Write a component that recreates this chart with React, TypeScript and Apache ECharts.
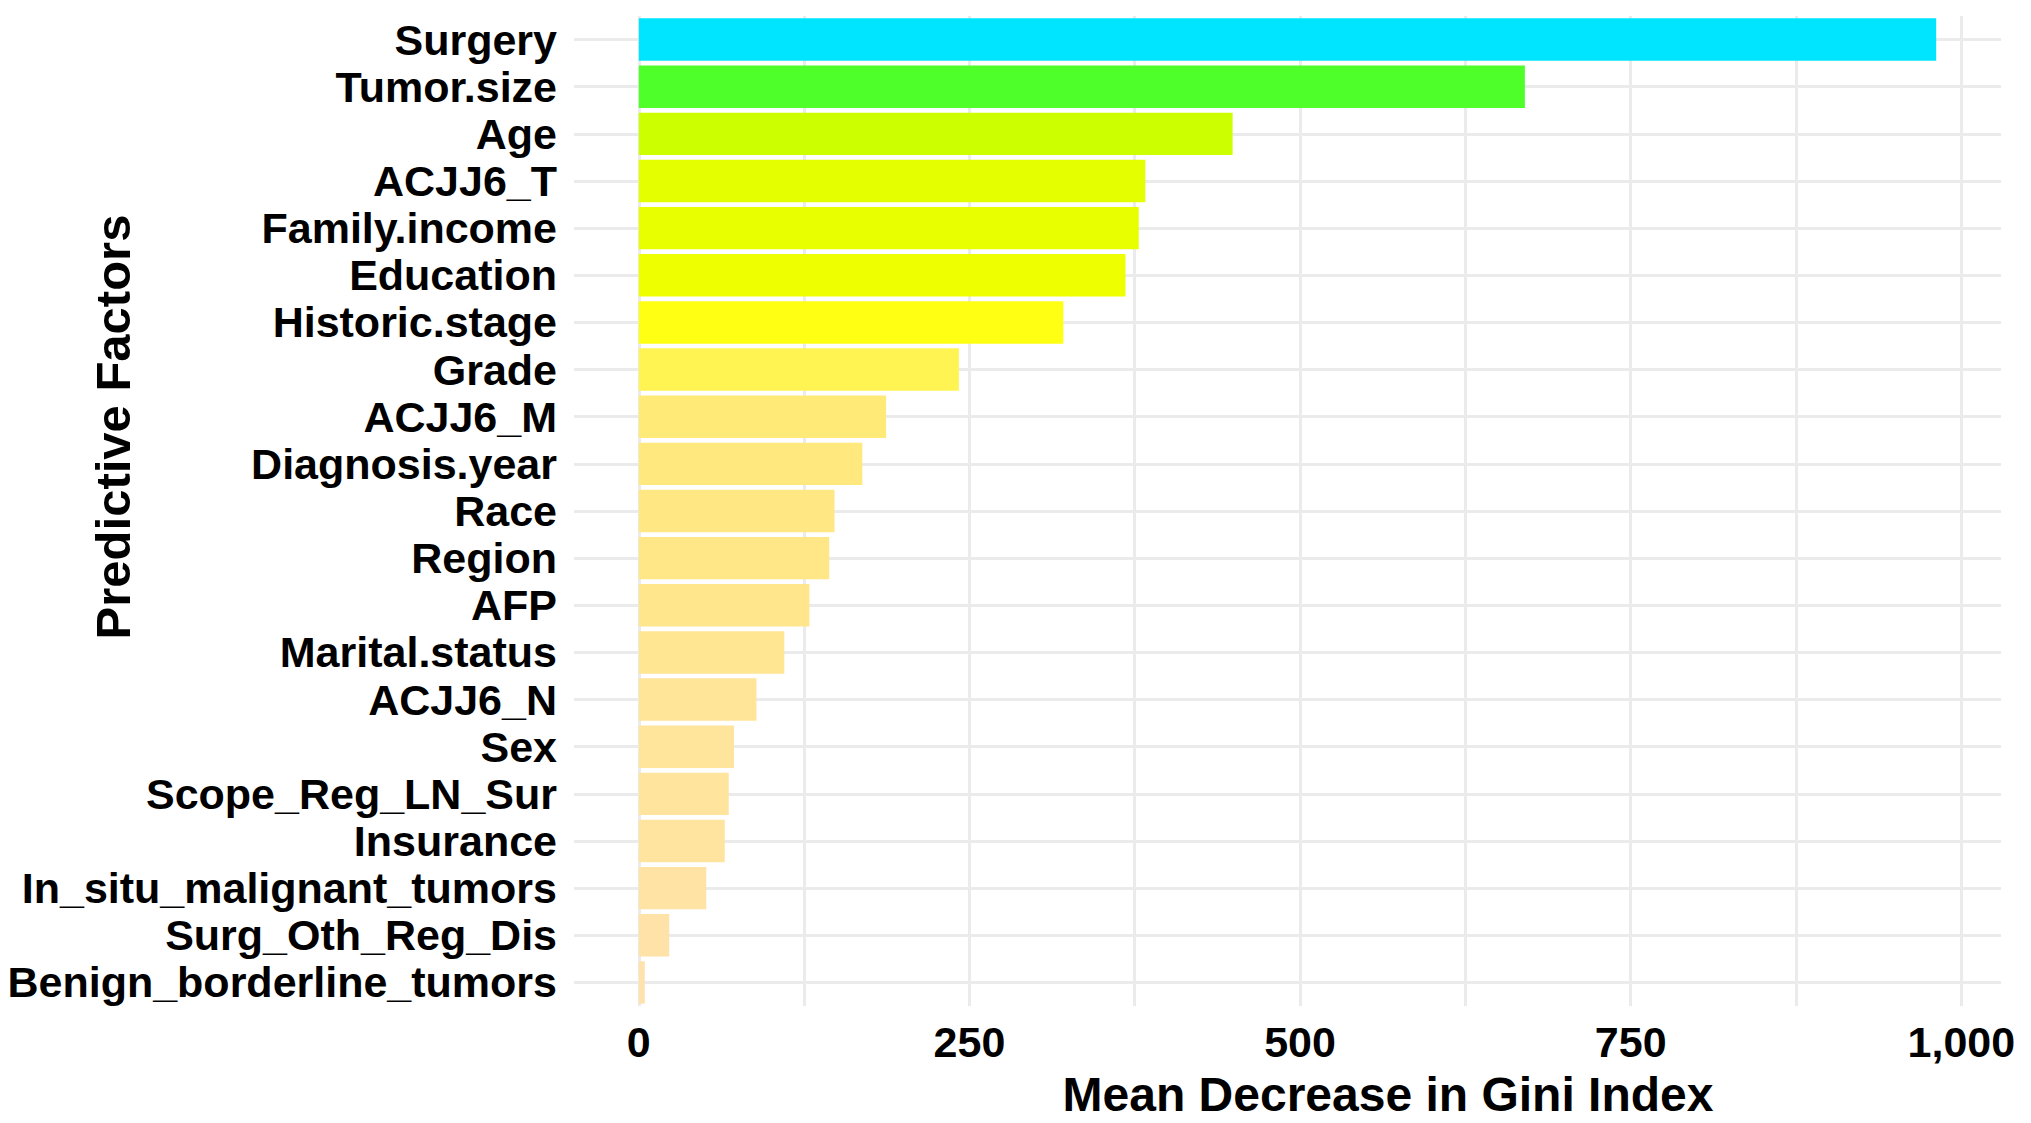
import React, { useEffect, useRef } from "react";
import * as echarts from "echarts";

const categories = [
  "Surgery",
  "Tumor.size",
  "Age",
  "ACJJ6_T",
  "Family.income",
  "Education",
  "Historic.stage",
  "Grade",
  "ACJJ6_M",
  "Diagnosis.year",
  "Race",
  "Region",
  "AFP",
  "Marital.status",
  "ACJJ6_N",
  "Sex",
  "Scope_Reg_LN_Sur",
  "Insurance",
  "In_situ_malignant_tumors",
  "Surg_Oth_Reg_Dis",
  "Benign_borderline_tumors",
];

const values = [981, 670, 449, 383, 378, 368, 321, 242, 187, 169, 148, 144, 129, 110, 89, 72, 68, 65, 51, 23, 4.5];

const barColors = [
  "#00E5FF",
  "#4EFF2A",
  "#CCFF00",
  "#E4FF00",
  "#E8FF00",
  "#EEFF00",
  "#FFFF14",
  "#FFF452",
  "#FFE977",
  "#FFE87D",
  "#FFE783",
  "#FFE787",
  "#FFE68D",
  "#FFE692",
  "#FFE597",
  "#FFE59B",
  "#FFE49E",
  "#FFE4A0",
  "#FFE3A4",
  "#FFE2A8",
  "#FFE1AC",
];

const tickValues = [0, 250, 500, 750, 1000];
const gridValues = [0, 125, 250, 375, 500, 625, 750, 875, 1000];

const xTitle = "Mean Decrease in Gini Index";
const yTitle = "Predictive Factors";

const FONT = "'Liberation Sans', Arial, Helvetica, sans-serif";

export default function App() {
  const ref = useRef<HTMLDivElement>(null);

  useEffect(() => {
    document.body.style.margin = "0";
    document.body.style.overflow = "hidden";
    const chart = echarts.init(ref.current!, null, { renderer: "svg" });
    const gridLineStyle = { color: "#EBEBEB", width: 3, type: "solid" as const };
    chart.setOption({
      animation: false,
      backgroundColor: "#FFFFFF",
      grid: { left: 574, top: 16, width: 1427, height: 990, containLabel: false },
      xAxis: {
        type: "value",
        min: -49,
        max: 1030,
        splitLine: { show: true, lineStyle: gridLineStyle },
        axisLine: { show: false },
        axisTick: { show: false, customValues: gridValues },
        axisLabel: {
          customValues: tickValues,
          margin: 14,
          fontFamily: FONT,
          fontWeight: "bold",
          fontSize: 43,
          color: "#000000",
          formatter: (v: number) => (v >= 1000 ? v.toLocaleString("en-US") : String(v)),
        },
      },
      yAxis: {
        type: "category",
        data: categories,
        inverse: true,
        axisLine: { show: false, onZero: false },
        axisTick: { show: false },
        splitLine: { show: false },
        axisLabel: {
          interval: 0,
          margin: 17,
          fontFamily: FONT,
          fontWeight: "bold",
          fontSize: 43,
          color: "#000000",
        },
      },
      graphic: [
        {
          type: "text",
          x: 1388,
          y: 1094,
          style: {
            text: xTitle,
            fontFamily: FONT,
            fontWeight: "bold",
            fontSize: 48,
            fill: "#000000",
            textAlign: "center",
            textVerticalAlign: "middle",
          },
        },
        {
          type: "text",
          x: 113,
          y: 427,
          rotation: Math.PI / 2,
          style: {
            text: yTitle,
            fontFamily: FONT,
            fontWeight: "bold",
            fontSize: 49,
            fill: "#000000",
            textAlign: "center",
            textVerticalAlign: "middle",
          },
        },
      ],
      series: [
        {
          type: "scatter",
          data: [],
          z: 0,
          silent: true,
          markLine: {
            z: 0,
            silent: true,
            symbol: "none",
            label: { show: false },
            animation: false,
            lineStyle: gridLineStyle,
            data: categories.map((c) => ({ yAxis: c })),
          },
        },
        {
          type: "bar",
          z: 3,
          barWidth: "90%",
          data: values.map((v, i) => ({ value: v, itemStyle: { color: barColors[i] } })),
        },
      ],
    });
    return () => chart.dispose();
  }, []);

  return <div ref={ref} style={{ width: 2031, height: 1123 }} />;
}
